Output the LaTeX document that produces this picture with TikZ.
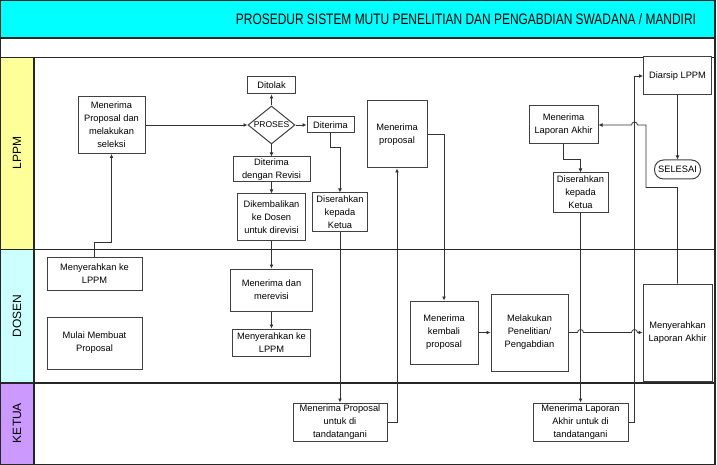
\documentclass[tikz,border=0pt]{standalone}
\usepackage{fontspec}
\usepackage{graphicx}
\setmainfont{Liberation Sans}
\usetikzlibrary{shapes.geometric,arrows.meta,calc}

\definecolor{judulcyan}{HTML}{00FFFF}
\definecolor{lppmkuning}{HTML}{FFFF99}
\definecolor{dosenbiru}{HTML}{CCFFFF}
\definecolor{ketuaungu}{HTML}{CC99FF}

\begin{document}
\begin{tikzpicture}[x=1pt,y=-1pt,
	kotak/.style={draw=black!75, line width=1pt, fill=white, align=center, inner sep=1pt, font=\fontsize{9.3}{13}\selectfont},
	panah/.style={draw=black!80, line width=0.8pt, -{Latex[length=4pt,width=4pt]}},
	garis/.style={black!85, line width=1.1pt},
	lajur/.style={rotate=90, font=\fontsize{12}{12}\selectfont}]
	
	\useasboundingbox (0,0) rectangle (717,465);
	
	% Judul
	\fill[judulcyan] (0,0) rectangle (715,38);
	\node (judul) at (466,19) {\resizebox{460pt}{11pt}{PROSEDUR SISTEM MUTU PENELITIAN DAN PENGABDIAN SWADANA / MANDIRI}};
	
	% Lajur
	\fill[lppmkuning] (0,57.5) rectangle (34,249.5);
	\fill[dosenbiru] (0,249.5) rectangle (34,383);
	\fill[ketuaungu] (0,383) rectangle (34,464.5);
	\draw[garis] (0,38) -- (715,38);
	\draw[garis] (0,57.5) -- (715,57.5);
	\draw[garis] (0,249.5) -- (715,249.5);
	\draw[garis] (0,383) -- (715,383);
	\draw[garis] (34,57.5) -- (34,464.5);
	\draw[garis] (0.5,0.5) rectangle (715,464.5);
	\node[lajur] (lppm) at (17,153) {LPPM};
	\node[lajur] (dosen) at (17,316) {DOSEN};
	\node[lajur] (ketua) at (17,423) {KETUA};
	
	% LPPM
	\node[kotak, minimum width=67pt, minimum height=57pt] (terimaProp) at (111.5,125) {Menerima\\Proposal dan\\melakukan\\seleksi};
	\node[kotak, minimum width=48pt, minimum height=17pt] (ditolak) at (271.5,85.5) {Ditolak};
	\node[draw=black!75, line width=1pt, fill=white, diamond, minimum width=47pt, minimum height=38pt, inner sep=0pt, font=\fontsize{8.5}{10}\selectfont] (proses) at (271.5,125) {\makebox[0pt]{PROSES}};
	\node[kotak, minimum width=47pt, minimum height=16pt] (diterima) at (330.5,125) {Diterima};
	\node[kotak, minimum width=77pt, minimum height=25pt] (revisi) at (271.5,169.5) {Diterima\\dengan Revisi};
	\node[kotak, minimum width=68pt, minimum height=46pt] (kembali) at (271.5,217) {Dikembalikan\\ke Dosen\\untuk direvisi};
	\node[kotak, minimum width=55pt, minimum height=38pt] (serahA) at (340,212) {Diserahkan\\kepada\\Ketua};
	\node[kotak, minimum width=60pt, minimum height=67pt] (terimaProp2) at (397,134.5) {Menerima\\proposal};
	\node[kotak, minimum width=69pt, minimum height=38pt] (terimaLap) at (563.5,125) {Menerima\\Laporan Akhir};
	\node[kotak, minimum width=55pt, minimum height=39pt] (serahB) at (580.5,192.5) {Diserahkan\\kepada\\Ketua};
	\node[kotak, minimum width=68pt, minimum height=38pt] (arsip) at (677.5,76) {Diarsip LPPM};
	\node[kotak, rounded corners=9pt, minimum width=46pt, minimum height=19pt] (selesai) at (677.5,169.5) {SELESAI};
	
	% DOSEN
	\node[kotak, minimum width=95pt, minimum height=33pt] (serahLPPMa) at (94.5,273.5) {Menyerahkan ke\\LPPM};
	\node[kotak, minimum width=95pt, minimum height=52pt] (mulai) at (94.5,343) {Mulai Membuat\\Proposal};
	\node[kotak, minimum width=82pt, minimum height=42pt] (merevisi) at (271.5,290) {Menerima dan\\merevisi};
	\node[kotak, minimum width=78pt, minimum height=27pt] (serahLPPMb) at (271.5,342.5) {Menyerahkan ke\\LPPM};
	\node[kotak, minimum width=68pt, minimum height=63pt] (kembaliProp) at (444,332.5) {Menerima\\kembali\\proposal};
	\node[kotak, minimum width=77pt, minimum height=77pt] (penelitian) at (529.5,332.5) {Melakukan\\Penelitian/\\Pengabdian};
	\node[kotak, minimum width=69pt, minimum height=97pt] (serahLap) at (677.5,332.5) {Menyerahkan\\Laporan Akhir};
	
	% KETUA
	\node[kotak, minimum width=94pt, minimum height=38pt] (ttdProp) at (340,422) {Menerima Proposal\\untuk di\\tandatangani};
	\node[kotak, minimum width=95pt, minimum height=38pt] (ttdLap) at (580.5,422) {Menerima Laporan\\Akhir untuk di\\tandatangani};
	\coordinate (jalur) at ($(ttdLap.east)+(6,0)$);
	
	% Alur
	\draw[panah] (serahLPPMa.north) -- ++(0,-14) -| (terimaProp.south);
	\draw[panah] (terimaProp.east) -- (proses.west);
	\draw[panah] (proses.north) -- (ditolak.south);
	\draw[panah] (proses.east) -- (diterima.west);
	\draw[panah] (proses.south) -- (revisi.north);
	\draw[panah] (revisi.south) -- (kembali.north);
	\draw[panah] (kembali.south) -- (merevisi.north);
	\draw[panah] (merevisi.south) -- (serahLPPMb.north);
	\draw[panah] (diterima.south) -- ++(0,14) -| (serahA.north);
	\draw[panah] (serahA.south) -- (ttdProp.north);
	\draw[panah] (ttdProp.east) -| (terimaProp2.south);
	\draw[panah] (terimaProp2.east) -| (kembaliProp.north);
	\draw[panah] (kembaliProp.east) -- (penelitian.west);
	\draw[panah] (penelitian.east) -- ($(penelitian.east -| serahB.south)+(-3,0)$) arc[start angle=180,end angle=0,radius=3pt]
		-- ($(penelitian.east -| jalur)+(-3,0)$) arc[start angle=180,end angle=0,radius=3pt] -- (serahLap.west);
	\draw[panah] (serahLap.north) -- ++(0,-96) -- ++(-31.5,0) |- ($(jalur |- terimaLap.east)+(3,0)$)
		arc[start angle=0,end angle=180,radius=3pt] -- (terimaLap.east);
	\draw[panah] (terimaLap.south) -- ++(0,15) -| (serahB.north);
	\draw[panah] (serahB.south) -- (ttdLap.north);
	\draw[panah] (ttdLap.east) -- (jalur) |- (arsip.west);
	\draw[panah] (arsip.south) -- (selesai.north);
	
\end{tikzpicture}
\end{document}
